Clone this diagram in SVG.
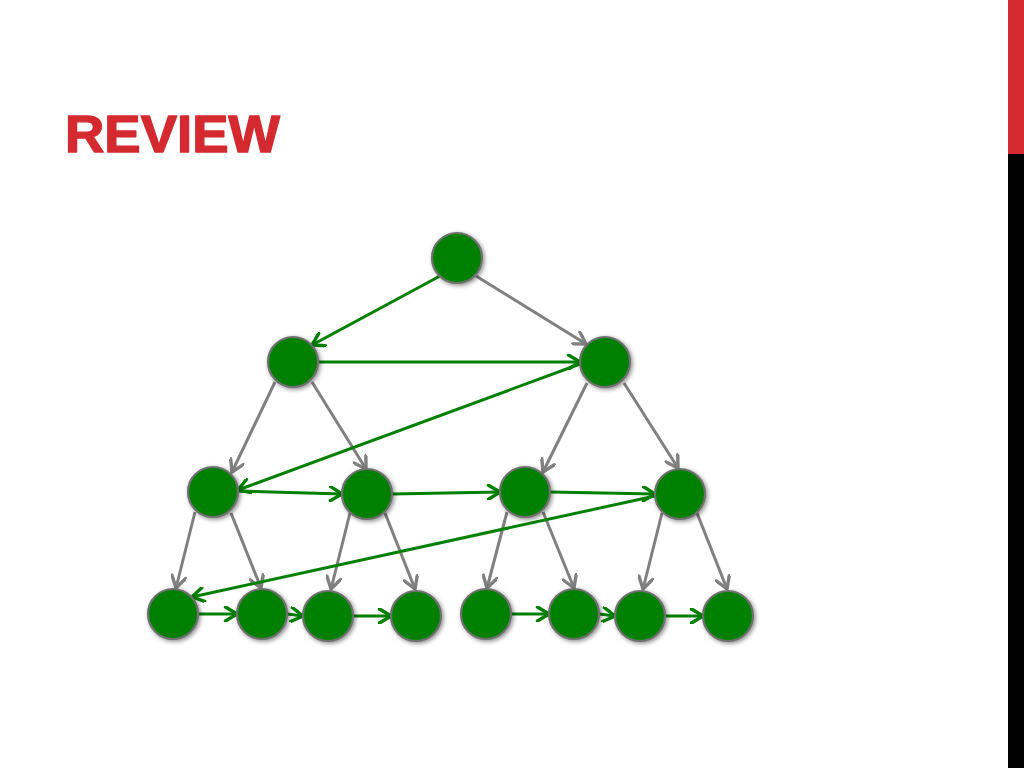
<svg xmlns="http://www.w3.org/2000/svg" width="1024" height="768" viewBox="0 0 1024 768">
<style>
.title{font-family:"Liberation Sans",Arial,sans-serif;font-weight:bold;font-size:51px;fill:#d42a2f;stroke:#d42a2f;stroke-width:1.4;stroke-linejoin:round}
.node{fill:#008000;stroke:#707070;stroke-width:2.2;filter:url(#sh)}
.g{stroke:#808080;stroke-width:3;fill:none;marker-end:url(#ag)}
.t{stroke:#008000;stroke-width:3;fill:none;marker-end:url(#at)}
</style>
<defs>
<filter id="sh" x="-30%" y="-30%" width="160%" height="160%">
<feDropShadow dx="1.5" dy="1.5" stdDeviation="2" flood-color="#000" flood-opacity="0.45"/>
</filter>
<marker id="ag" markerUnits="userSpaceOnUse" viewBox="0 0 16 16" markerWidth="16" markerHeight="16" refX="14" refY="8" orient="auto">
<path d="M2.5,1 L14,8 L2.5,15" fill="none" stroke="#808080" stroke-width="3.4" stroke-linecap="round" stroke-linejoin="round"/>
</marker>
<marker id="at" markerUnits="userSpaceOnUse" viewBox="0 0 16 16" markerWidth="16" markerHeight="16" refX="14" refY="8" orient="auto">
<path d="M2.5,1 L14,8 L2.5,15" fill="none" stroke="#008000" stroke-width="3.4" stroke-linecap="round" stroke-linejoin="round"/>
</marker>
</defs>
<rect x="0" y="0" width="1024" height="768" fill="#fff"/>
<rect x="1008" y="0" width="16" height="154" fill="#d42a2f"/>
<rect x="1008" y="154" width="16" height="614" fill="#000"/>
<text class="title" x="65" y="152" textLength="215" lengthAdjust="spacingAndGlyphs">REVIEW</text>
<g id="connectors">
<line class="g" x1="476" y1="276" x2="586" y2="344"/>
<line class="g" x1="275" y1="382" x2="232" y2="472"/>
<line class="g" x1="312" y1="382" x2="366" y2="469"/>
<line class="g" x1="587" y1="383" x2="543" y2="472"/>
<line class="g" x1="624" y1="383" x2="678" y2="468"/>
<line class="g" x1="195" y1="512" x2="176" y2="588"/>
<line class="g" x1="231" y1="513" x2="261" y2="588"/>
<line class="g" x1="350" y1="513" x2="331" y2="589"/>
<line class="g" x1="385" y1="513" x2="415" y2="589"/>
<line class="g" x1="507" y1="512" x2="487" y2="588"/>
<line class="g" x1="543" y1="512" x2="574" y2="588"/>
<line class="g" x1="662" y1="513" x2="643" y2="589"/>
<line class="g" x1="697" y1="513" x2="727" y2="589"/>
<line class="t" x1="440" y1="276" x2="312" y2="345"/>
<line class="t" x1="318" y1="362" x2="580" y2="362"/>
<line class="t" x1="580" y1="364" x2="238" y2="490"/>
<line class="t" x1="238" y1="491" x2="342" y2="494"/>
<line class="t" x1="392" y1="494" x2="500" y2="492"/>
<line class="t" x1="550" y1="492" x2="655" y2="494"/>
<line class="t" x1="655" y1="496" x2="192" y2="597"/>
<line class="t" x1="198" y1="614" x2="237" y2="614"/>
<line class="t" x1="287" y1="614" x2="303" y2="616"/>
<line class="t" x1="353" y1="616" x2="391" y2="616"/>
<line class="t" x1="511" y1="614" x2="549" y2="614"/>
<line class="t" x1="599" y1="614" x2="615" y2="616"/>
<line class="t" x1="665" y1="616" x2="703" y2="616"/>
</g>
<g id="n0"><circle class="node" cx="457" cy="258" r="25"/></g>
<g id="n1"><circle class="node" cx="293" cy="362" r="25"/></g>
<g id="n2"><circle class="node" cx="605" cy="362" r="25"/></g>
<g id="n3"><circle class="node" cx="213" cy="492" r="25"/></g>
<g id="n4"><circle class="node" cx="367" cy="494" r="25"/></g>
<g id="n5"><circle class="node" cx="525" cy="492" r="25"/></g>
<g id="n6"><circle class="node" cx="680" cy="494" r="25"/></g>
<g id="n7"><circle class="node" cx="173" cy="614" r="25"/></g>
<g id="n8"><circle class="node" cx="262" cy="614" r="25"/></g>
<g id="n9"><circle class="node" cx="328" cy="616" r="25"/></g>
<g id="n10"><circle class="node" cx="416" cy="616" r="25"/></g>
<g id="n11"><circle class="node" cx="486" cy="614" r="25"/></g>
<g id="n12"><circle class="node" cx="574" cy="614" r="25"/></g>
<g id="n13"><circle class="node" cx="640" cy="616" r="25"/></g>
<g id="n14"><circle class="node" cx="728" cy="616" r="25"/></g>
</svg>
